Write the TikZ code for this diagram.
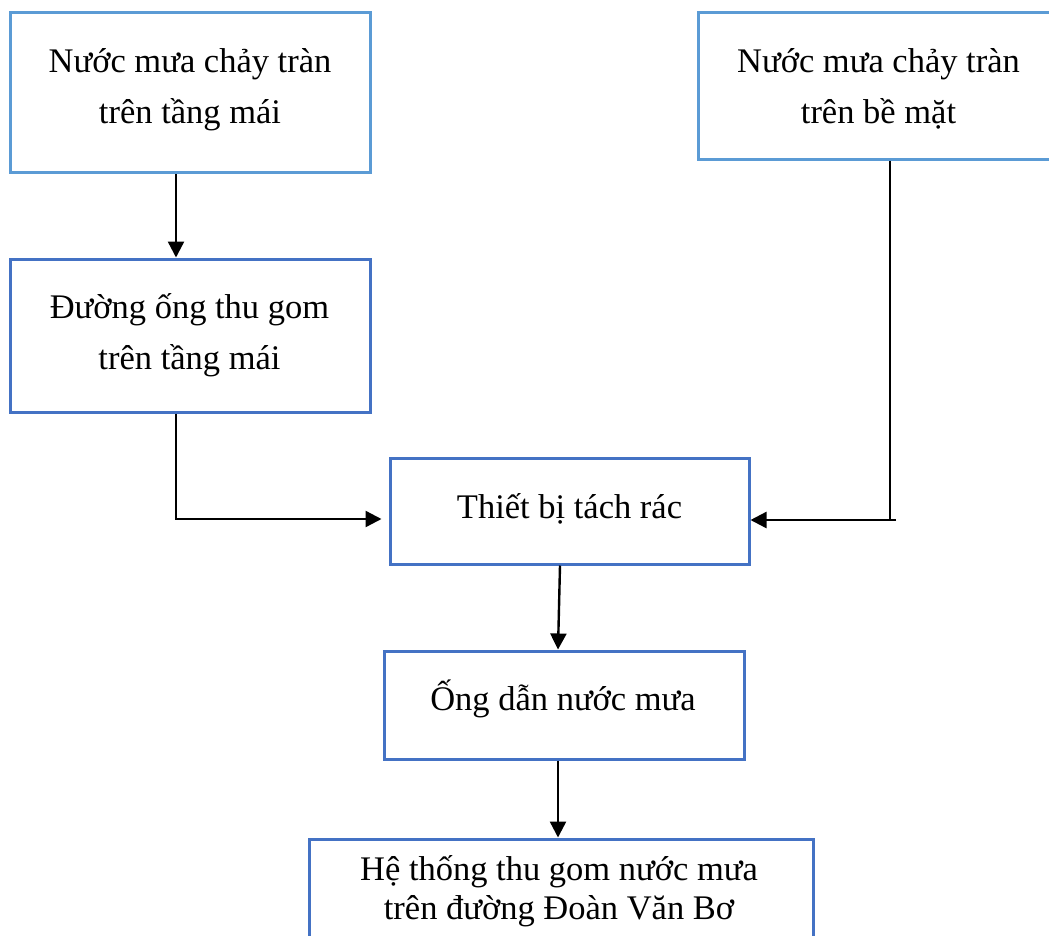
\documentclass[tikz,border=0pt]{standalone}
\usepackage{fontspec}
\setmainfont{Liberation Serif}
\usetikzlibrary{arrows.meta}
\definecolor{boxlight}{HTML}{5B9BD5}
\definecolor{boxdark}{HTML}{4472C4}
\tikzset{
  box/.style={draw, rectangle, line width=3pt, inner sep=0pt, fill=white},
  lightbox/.style={box, draw=boxlight},
  darkbox/.style={box, draw=boxdark},
  lbl/.style={anchor=base, inner sep=0pt, font=\fontsize{34.5}{40}\selectfont},
  conn/.style={line width=2.4pt, black},
  arr/.style={conn, -{Triangle[length=16pt,width=16pt]}}
}
\begin{document}
\begin{tikzpicture}[x=1pt,y=-1pt]
\useasboundingbox (0,0) rectangle (1049,935);
\begin{scope}
  \clip (0,0) rectangle (1049,935);
  % boxes
  \node[lightbox, minimum width=360pt, minimum height=160.5pt] (a) at (190,92.25) {};
  \node[lightbox, minimum width=360pt, minimum height=147pt]   (b) at (878,85.5) {};
  \node[darkbox,  minimum width=360pt, minimum height=153pt]   (c) at (190,335.5) {};
  \node[darkbox,  minimum width=359pt, minimum height=106pt]   (d) at (569.5,511) {};
  \node[darkbox,  minimum width=360pt, minimum height=108pt]   (e) at (564,705) {};
  \node[darkbox,  minimum width=504pt, minimum height=162pt]   (f) at (561,920) {};
  % labels
  \node[lbl] (a1) at (190,72)    {Nước mưa chảy tràn};
  \node[lbl] (a2) at (190,123)   {trên tầng mái};
  \node[lbl] (b1) at (878.5,72)  {Nước mưa chảy tràn};
  \node[lbl] (b2) at (878.5,123) {trên bề mặt};
  \node[lbl] (c1) at (189.5,318) {Đường ống thu gom};
  \node[lbl] (c2) at (189.5,369) {trên tầng mái};
  \node[lbl] (d1) at (569.5,518) {Thiết bị tách rác};
  \node[lbl] (e1) at (563,710)   {Ống dẫn nước mưa};
  \node[lbl] (f1) at (559,880.5) {Hệ thống thu gom nước mưa};
  \node[lbl] (f2) at (559,919.5) {trên đường Đoàn Văn Bơ};
\end{scope}
% connectors
\coordinate (bturn) at (890,521);
\coordinate (bend) at (896,520);
\draw[arr] ([xshift=-14pt]a.south) -- ([xshift=-14pt]c.north);
\draw[arr] ([xshift=-14pt]c.south) |- ([xshift=-7pt,yshift=-8pt]d.west);
\draw[conn] ([xshift=12pt]b.south) -- (bturn);
\draw[arr] (bend) -- ([yshift=-9pt]d.east);
\draw[arr] ([xshift=-9.5pt]d.south) -- ([xshift=-6pt]e.north);
\draw[arr] ([xshift=-6pt]e.south) -- ([xshift=-3pt]f.north);
\end{tikzpicture}
\end{document}
